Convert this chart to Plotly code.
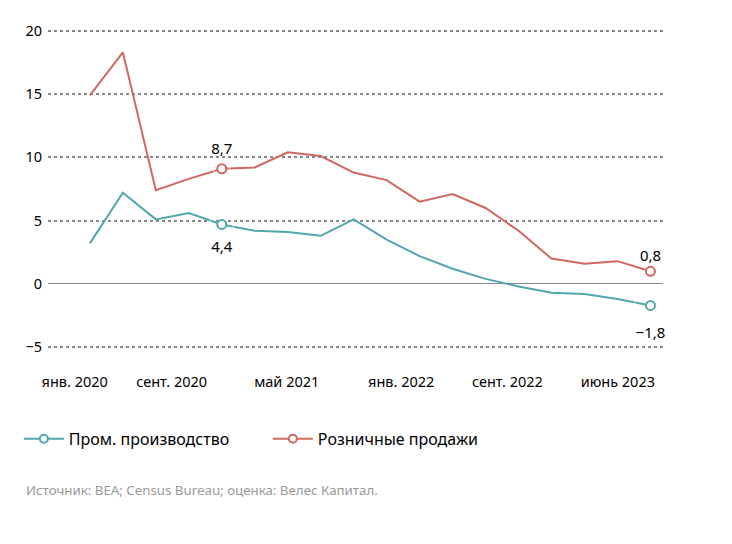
import plotly.graph_objects as go

# --- data ---
x_idx = list(range(18))
prom = [3.2, 7.2, 5.1, 5.6, 4.7, 4.2, 4.1, 3.8, 5.1, 3.5, 2.2, 1.2, 0.4, -0.2, -0.7, -0.8, -1.2, -1.7]
retail = [14.9, 18.3, 7.4, 8.3, 9.1, 9.2, 10.4, 10.1, 8.8, 8.2, 6.5, 7.1, 6.0, 4.2, 2.0, 1.6, 1.8, 1.0]

hl_idx = [4, 17]
prom_hl_text = ["4,4", "−1,8"]
retail_hl_text = ["8,7", "0,8"]

tick_pos = [-0.46, 2.48, 5.97, 9.44, 12.66, 16.01]
tick_text = ["янв. 2020", "сент. 2020", "май 2021", "янв. 2022", "сент. 2022", "июнь 2023"]

TEAL = "#52a7ac"
RED = "#d0685f"
FONT = "Noto Sans"

fig = go.Figure()

# lines
fig.add_trace(go.Scatter(x=x_idx, y=prom, mode="lines", line=dict(color=TEAL, width=2),
                         showlegend=False, hoverinfo="skip"))
fig.add_trace(go.Scatter(x=x_idx, y=retail, mode="lines", line=dict(color=RED, width=2),
                         showlegend=False, hoverinfo="skip"))

# value labels (transparent markers only push the text away from the point)
fig.add_trace(go.Scatter(
    x=hl_idx, y=[prom[i] for i in hl_idx], mode="markers+text",
    marker=dict(size=[24, 32], color="rgba(0,0,0,0)"),
    text=prom_hl_text, textposition="bottom center", cliponaxis=False,
    textfont=dict(family=FONT, size=15, color="#000"), showlegend=False, hoverinfo="skip"))
fig.add_trace(go.Scatter(
    x=hl_idx, y=[retail[i] for i in hl_idx], mode="markers+text",
    marker=dict(size=[16, 9], color="rgba(0,0,0,0)"),
    text=retail_hl_text, textposition="top center", cliponaxis=False,
    textfont=dict(family=FONT, size=15, color="#000"), showlegend=False, hoverinfo="skip"))

# highlighted points
fig.add_trace(go.Scatter(
    x=hl_idx, y=[prom[i] for i in hl_idx], mode="markers",
    marker=dict(size=9, color="white", line=dict(color=TEAL, width=2)),
    cliponaxis=False, showlegend=False))
fig.add_trace(go.Scatter(
    x=hl_idx, y=[retail[i] for i in hl_idx], mode="markers",
    marker=dict(size=9, color="white", line=dict(color=RED, width=2)),
    cliponaxis=False, showlegend=False))

# legend entries
fig.add_trace(go.Scatter(x=[None], y=[None], mode="lines+markers", name="Пром. производство",
                         line=dict(color=TEAL, width=2),
                         marker=dict(size=8, color="white", line=dict(color=TEAL, width=2))))
fig.add_trace(go.Scatter(x=[None], y=[None], mode="lines+markers", name="Розничные продажи",
                         line=dict(color=RED, width=2),
                         marker=dict(size=8, color="white", line=dict(color=RED, width=2))))

fig.update_layout(
    width=724, height=528,
    margin=dict(l=40, r=69, t=19, b=185),
    plot_bgcolor="white", paper_bgcolor="white",
    font=dict(family=FONT, size=14, color="#000"),
    showlegend=True,
    legend=dict(orientation="h", xref="container", yref="container", x=0.015, y=0.184,
                xanchor="left", yanchor="middle", font=dict(size=16, color="#000"),
                entrywidth=194, itemwidth=40, bgcolor="rgba(0,0,0,0)"),
    xaxis=dict(range=[-1.27, 17.38], tickvals=tick_pos, ticktext=tick_text,
               showgrid=False, zeroline=False, showline=False, ticks="",
               ticklabelstandoff=20, tickfont=dict(size=14.5)),
    yaxis=dict(range=[-5.3, 20.3], tickvals=[-5, 0, 5, 10, 15, 20],
               showgrid=True, gridcolor="#888", griddash="dot", gridwidth=1.5,
               zeroline=True, zerolinecolor="#888", zerolinewidth=1.2,
               showline=False, ticks="", ticklabelstandoff=5, tickfont=dict(size=14.5)),
)

fig.add_annotation(text="Источник: BEA; Census Bureau; оценка: Велес Капитал.",
                   xref="paper", yref="paper", x=-0.039, y=-0.43,
                   xanchor="left", yanchor="middle", showarrow=False,
                   font=dict(family=FONT, size=13.3, color="#999"))

fig.write_html("out.html")
